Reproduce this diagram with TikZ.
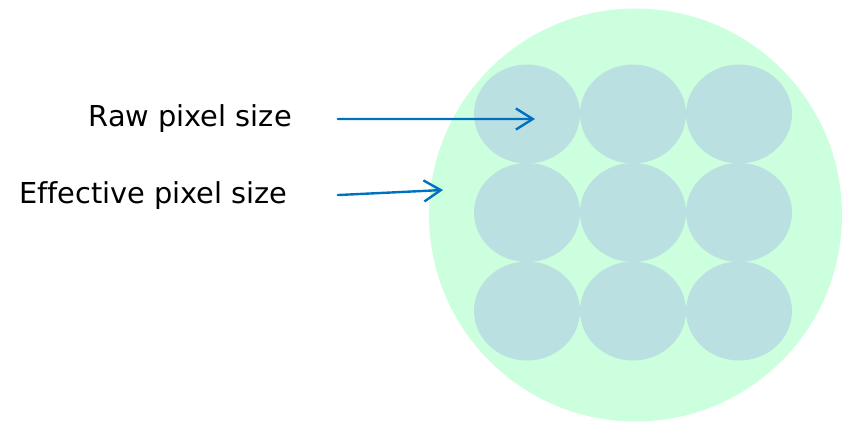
\documentclass[tikz,border=0pt]{standalone}
\usepackage{fontspec}
\setmainfont[Ligatures=NoCommon]{DejaVu Sans}
\usetikzlibrary{arrows.meta}
\definecolor{spotgreen}{HTML}{CCFFDD}
\definecolor{pixelblue}{HTML}{BBE0E2}
\definecolor{arrowblue}{HTML}{0070C0}
\tikzset{
	pxarrow/.style={draw=arrowblue,line width=1.7pt,-{Straight Barb[length=12pt,width=15pt,line width=1.7pt]}},
	pxlabel/.style={anchor=base east,inner sep=0pt}
}
\begin{document}
\begin{tikzpicture}[x=0.025cm,y=-0.025cm,line join=round,line cap=round,font=\fontsize{20.5}{24}\selectfont]
			\useasboundingbox (0,0) rectangle (846,426);
			% effective spot
			\fill[spotgreen] (635.5,215) circle [radius=206.5];
			% raw pixels
			\foreach \i in {0,1,2}
			\foreach \j in {0,1,2}
			\fill[pixelblue] (527+106*\i,114+98.5*\j) ellipse [x radius=53,y radius=49.5];
			\node[pxlabel] (raw) at (292,127) {Raw pixel size};
			\node[pxlabel] (eff) at (288,203) {Effective pixel size};
			\path 
			(535,119) coordinate (rawtip)
			(443,190) coordinate (efftip);
			\draw[pxarrow] ([xshift=32.6pt]raw.east)--(rawtip);
			\draw[pxarrow] ([xshift=35.4pt]eff.east)--(efftip);
	\end{tikzpicture}
\end{document}
